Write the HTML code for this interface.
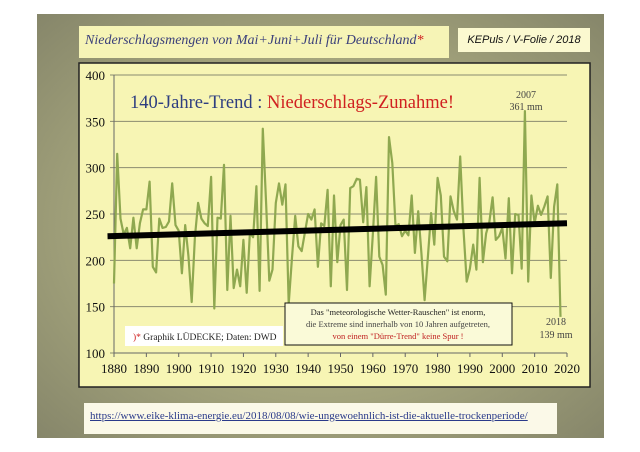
<!DOCTYPE html>
<html><head><meta charset="utf-8">
<style>
body{margin:0;width:640px;height:452px;background:#fff;overflow:hidden;font-family:"Liberation Serif",serif}
#slide{position:absolute;left:37px;top:14px;width:567px;height:424px;background:radial-gradient(ellipse at 50% 50%,#c9c9a0 0%,#a4a47c 55%,#86866a 100%)}
.box{position:absolute}
</style></head><body>
<div id="slide"></div>
<div class="box" style="left:79px;top:26px;width:370px;height:32px;background:#f6f4b6;"></div>
<div class="box" style="left:85px;top:33px;font-style:italic;font-size:14px;color:#3a3f7a;white-space:nowrap">Niederschlagsmengen von Mai+Juni+Juli für Deutschland<span style="color:#d02020">*</span></div>
<div class="box" style="left:458px;top:28px;width:132px;height:24px;background:#fbf9d0;font-family:'Liberation Sans',sans-serif;font-style:italic;font-size:11px;line-height:24px;text-align:center;color:#111">KEPuls / V-Folie / 2018</div>
<div class="box" style="left:84px;top:403px;width:473px;height:31px;background:#fbf9e8"></div>
<div class="box" style="left:90px;top:410px;font-size:11px;color:#2a3a8a;text-decoration:underline;white-space:nowrap">https://www.eike-klima-energie.eu/2018/08/08/wie-ungewoehnlich-ist-die-aktuelle-trockenperiode/</div>
<svg id="chart" width="640" height="452" style="position:absolute;left:0;top:0">
<rect x="79" y="63" width="511" height="324" fill="#f7f5b4" stroke="#222" stroke-width="1.5"/>
<g id="grid"></g><g id="axes"></g><g id="series"></g>
<text x="130" y="108" font-size="18.5" fill="#2e3e80">140-Jahre-Trend : <tspan fill="#d02020">Niederschlags-Zunahme!</tspan></text>
<text x="148" y="342" font-family="Liberation Sans,sans-serif" font-weight="bold" font-size="13" fill="#e05a20">y = 0,047x + 140,98</text>
<rect x="125" y="326" width="158" height="20" fill="#fff"/>
<text x="133" y="340" font-size="9.5" fill="#222"><tspan fill="#d02020">)*</tspan> Graphik LÜDECKE;  Daten: DWD</text>
<rect x="285" y="303" width="227" height="42" fill="#fafad8" stroke="#111" stroke-width="1"/>
<text x="398" y="315" font-size="8.5" text-anchor="middle" fill="#222">Das "meteorologische Wetter-Rauschen" ist enorm,</text>
<text x="398" y="327" font-size="8.5" text-anchor="middle" fill="#444">die Extreme sind innerhalb von 10 Jahren aufgetreten,</text>
<text x="398" y="339" font-size="8.5" text-anchor="middle" fill="#c02020">von einem "Dürre-Trend" keine Spur !</text>
<text x="526" y="98" font-size="10" text-anchor="middle" fill="#444">2007</text>
<text x="526" y="110" font-size="10" text-anchor="middle" fill="#444">361 mm</text>
<text x="556" y="325" font-size="10" text-anchor="middle" fill="#444">2018</text>
<text x="556" y="338" font-size="10" text-anchor="middle" fill="#444">139 mm</text>
</svg>
<script>
const startYear = 1880;
const values = [175,315,245,228,235,213,246,213,240,255,255,285,193,187,245,235,236,242,283,238,
232,186,238,205,155,225,262,245,240,237,290,148,246,245,303,168,248,170,190,172,
222,165,230,225,280,167,342,262,178,190,262,283,260,282,153,203,248,215,210,230,
250,244,255,193,240,237,276,172,270,198,238,244,168,278,280,288,287,241,279,172,
229,290,204,195,163,333,305,237,239,226,232,227,270,208,253,208,157,204,251,217,
289,270,204,199,269,253,244,312,233,177,191,217,190,289,198,229,241,268,222,226,
235,202,267,186,250,249,191,361,177,270,240,259,249,258,269,181,258,282,139];
const yTicks = [100,150,200,250,300,350,400];
const xTicks = [1880,1890,1900,1910,1920,1930,1940,1950,1960,1970,1980,1990,2000,2010,2020];
const trendYears = [1878,2020];
const trendValues = [226,240];
const X0=114,X1=567,Y0=353,Y1=75;
const xs = y => X0 + (y-1880)/(2020-1880)*(X1-X0);
const ys = v => Y0 - (v-100)/(400-100)*(Y0-Y1);
const NS='http://www.w3.org/2000/svg';
function mk(tag,attrs,parent){const e=document.createElementNS(NS,tag);for(const k in attrs)e.setAttribute(k,attrs[k]);document.getElementById(parent).appendChild(e);return e;}
yTicks.forEach(t=>{
  const g=mk('line',{x1:X0-4,x2:X1,y1:ys(t),y2:ys(t),stroke:'#8a8a70','stroke-width':1},'grid');
  
  
  const l=mk('text',{x:105,y:ys(t)+5,'text-anchor':'end','font-size':13,fill:'#111'},'axes');
  l.textContent=t;
  
  
});
const ax=mk('line',{x1:X0,x2:X0,y1:Y1,y2:Y0,stroke:'#666'},'axes');


const bx=mk('line',{x1:X0,x2:X1,y1:Y0,y2:Y0,stroke:'#666'},'axes');


xTicks.forEach(t=>{
  const k=mk('line',{x1:xs(t),x2:xs(t),y1:Y0,y2:Y0+4,stroke:'#666'},'axes');
  
  
  const l=mk('text',{x:xs(t),y:373,'text-anchor':'middle','font-size':13,fill:'#111'},'axes');
  l.textContent=t;
  
  
});
const pts=values.map((v,i)=>xs(startYear+i).toFixed(1)+','+ys(v).toFixed(1)).join(' ');
const p=mk('polyline',{points:pts,fill:'none',stroke:'#8fa850','stroke-width':2.2,'stroke-linejoin':'round'},'series');


const tr=mk('line',{x1:xs(trendYears[0]),y1:ys(trendValues[0]),x2:xs(trendYears[1]),y2:ys(trendValues[1]),stroke:'#000','stroke-width':6},'series');


</script>
</body></html>
